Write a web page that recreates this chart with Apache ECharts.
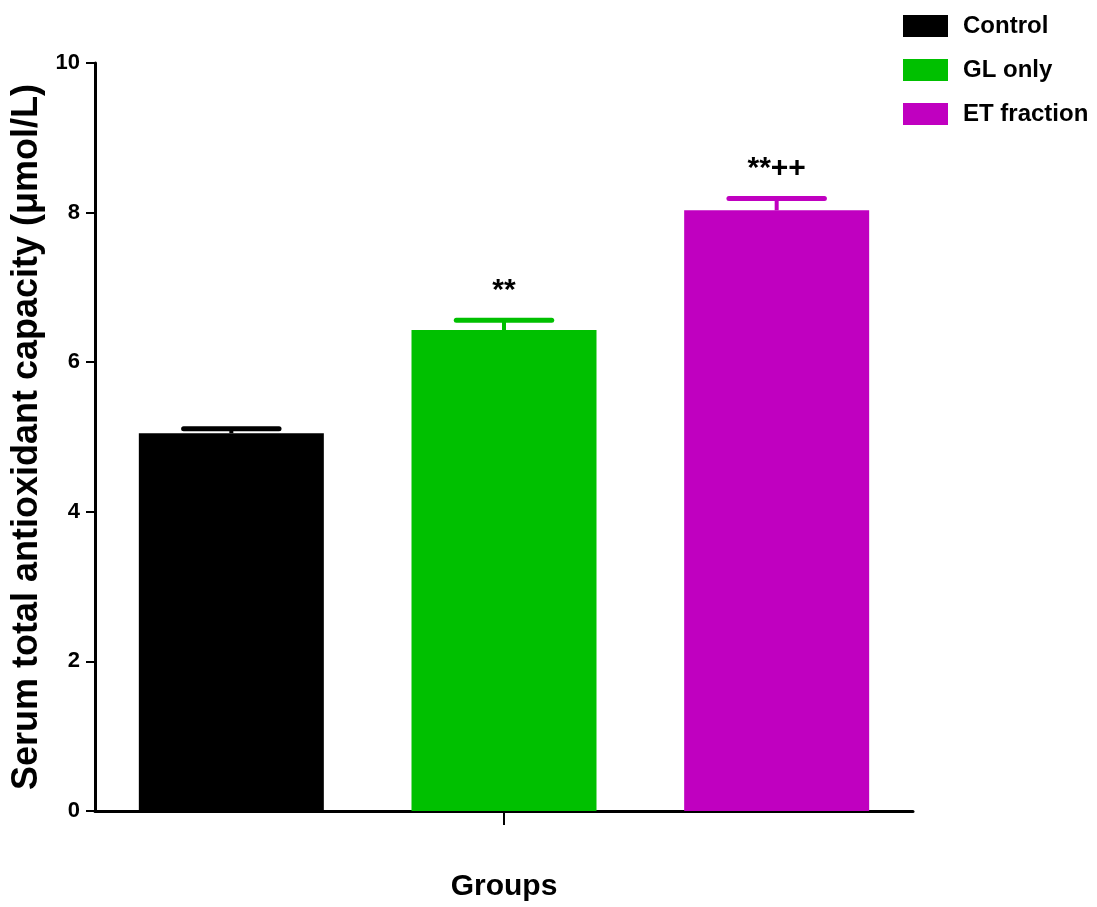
<!DOCTYPE html>
<html>
<head>
<meta charset="utf-8">
<script src="https://cdn.jsdelivr.net/npm/echarts@6/dist/echarts.min.js"></script>
<style>
  html, body { margin: 0; padding: 0; background: #ffffff; }
  #chart { width: 1097px; height: 907px; }
</style>
</head>
<body>
<div id="chart"></div>
<script>
// ---- data ----
const categories = ['Control', 'GL only', 'ET fraction'];
const means = [5.05, 6.43, 8.03];
const errors = [0.06, 0.13, 0.16];
const annotations = ['', '**', '**++'];
const colors = ['#000000', '#00c000', '#c000c0'];
const yTicks = [0, 2, 4, 6, 8, 10];

const FONT = "'Liberation Sans', Arial, sans-serif";

const chart = echarts.init(document.getElementById('chart'), null, { renderer: 'canvas' });

const barSeries = categories.map((name, i) => ({
  name: name,
  type: 'bar',
  barWidth: 185,
  barGap: '-100%',
  itemStyle: { color: colors[i] },
  data: categories.map((c, j) => (j === i ? means[i] : '-')),
  z: 2
}));

const errData = categories.map((c, i) => [i, means[i], errors[i], annotations[i]]);

const errSeries = {
  type: 'custom',
  name: 'err',
  z: 5,
  silent: true,
  data: errData,
  encode: { x: 0, y: 1 },
  renderItem: function (params, api) {
    const idx = params.dataIndex;
    const x = api.value(0);
    const m = api.value(1);
    const e = api.value(2);
    const p0 = api.coord([x, m]);
    const p1 = api.coord([x, m + e]);
    const half = api.size([1, 0])[0] * 0.175;
    const col = colors[idx];
    const children = [
      { type: 'line', shape: { x1: p0[0], y1: p0[1], x2: p1[0], y2: p1[1] },
        style: { stroke: col, lineWidth: 4 } },
      { type: 'line', shape: { x1: p1[0] - half, y1: p1[1], x2: p1[0] + half, y2: p1[1] },
        style: { stroke: col, lineWidth: 5, lineCap: 'round' } }
    ];
    const ann = annotations[idx];
    if (ann) {
      children.push({
        type: 'text',
        style: {
          text: ann, x: p1[0], y: p1[1] - 30,
          textAlign: 'center', textVerticalAlign: 'middle',
          font: 'bold 30px ' + FONT, fill: '#000000'
        }
      });
    }
    return { type: 'group', children: children };
  }
};

chart.setOption({
  animation: false,
  backgroundColor: '#ffffff',
  grid: { left: 95, right: 184, top: 63, bottom: 95, containLabel: false },
  legend: {
    data: categories,
    orient: 'vertical',
    left: 898,
    top: 9,
    icon: 'rect',
    itemWidth: 45,
    itemHeight: 22,
    itemGap: 20,
    textStyle: { fontFamily: FONT, fontWeight: 'bold', fontSize: 24, color: '#000', padding: [0, 0, 0, 10] }
  },
  xAxis: {
    type: 'category',
    data: categories,
    name: 'Groups',
    nameLocation: 'middle',
    nameGap: 61,
    nameTextStyle: { fontFamily: FONT, fontWeight: 'bold', fontSize: 30, color: '#000' },
    axisLine: { lineStyle: { color: '#000', width: 3 } },
    axisTick: { show: true, alignWithLabel: true, length: 14, interval: function (i) { return i === 1; },
      lineStyle: { color: '#000', width: 2 } },
    axisLabel: { show: false },
    splitLine: { show: false }
  },
  yAxis: {
    type: 'value',
    min: yTicks[0],
    max: yTicks[yTicks.length - 1],
    interval: yTicks[1] - yTicks[0],
    name: 'Serum total antioxidant capacity (\u03bcmol/L)',
    nameLocation: 'middle',
    nameGap: 50,
    nameRotate: 90,
    nameTextStyle: { fontFamily: FONT, fontWeight: 'bold', fontSize: 36, color: '#000' },
    axisLine: { show: true, lineStyle: { color: '#000', width: 3 } },
    axisTick: { show: true, length: 9, lineStyle: { color: '#000', width: 2 } },
    axisLabel: { fontFamily: FONT, fontWeight: 'bold', fontSize: 22, color: '#000', margin: 15 },
    splitLine: { show: false }
  },
  series: barSeries.concat([errSeries])
});
</script>
</body>
</html>
